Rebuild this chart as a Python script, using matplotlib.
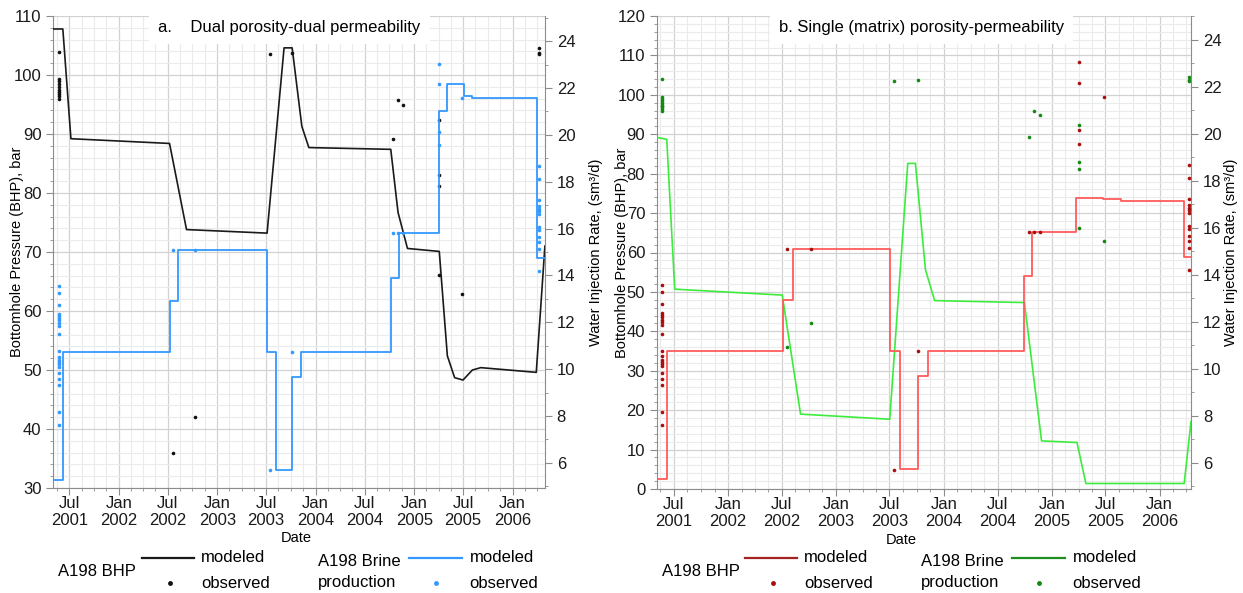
import numpy as np
import pandas as pd
import matplotlib
matplotlib.use('Agg')
import matplotlib.pyplot as plt
import matplotlib.dates as mdates
from matplotlib.ticker import MultipleLocator, FixedLocator
from matplotlib.lines import Line2D

plt.rcParams['font.family'] = ['Liberation Sans', 'DejaVu Sans']

# ---------------- datos ----------------
# Panel a: BHP modelado (bar)
bhp_a_fechas = ['2001-05-03', '2001-06-07', '2001-07-07', '2002-07-08', '2002-09-09',
                '2003-07-05', '2003-09-06', '2003-10-06', '2003-11-11', '2003-12-07',
                '2004-10-06', '2004-11-02', '2004-12-07', '2005-04-04', '2005-05-04',
                '2005-05-31', '2005-07-01', '2005-08-05', '2005-09-05', '2006-03-30',
                '2006-05-01']
bhp_a_valores = [107.8, 107.8, 89.2, 88.4, 73.8,
                 73.2, 104.6, 104.6, 91.3, 87.7,
                 87.4, 76.7, 70.6, 70.1, 52.4,
                 48.7, 48.3, 50.0, 50.4, 49.6,
                 71.0]

# Panel a: caudal modelado (sm3/d), escalones
tasa_a_fechas = ['2001-05-03', '2001-06-08', '2002-07-08', '2002-08-09', '2003-07-05',
                 '2003-08-07', '2003-10-05', '2003-11-08', '2004-10-07', '2004-11-06',
                 '2005-04-04', '2005-05-03', '2005-07-04', '2005-08-04', '2006-03-31',
                 '2006-05-01']
tasa_a_valores = [5.26, 10.75, 12.9, 15.1, 10.75,
                  5.7, 9.65, 10.75, 13.9, 15.8,
                  21.0, 22.15, 21.66, 21.56, 14.74,
                  14.74]

# Panel b: BHP modelado (bar)
bhp_b_fechas = ['2001-05-05', '2001-06-07', '2001-07-04', '2002-07-03', '2002-09-03',
                '2003-07-02', '2003-09-01', '2003-09-27', '2003-10-31', '2003-12-01',
                '2004-09-30', '2004-11-27', '2005-03-27', '2005-04-26', '2006-03-25',
                '2006-04-17']
bhp_b_valores = [89.2, 88.7, 50.7, 49.2, 19.0,
                 17.7, 82.6, 82.6, 55.6, 47.8,
                 47.3, 12.2, 11.8, 1.4, 1.4,
                 17.1]

# Panel b: caudal modelado (sm3/d), escalones
tasa_b_fechas = ['2001-05-05', '2001-06-08', '2002-07-06', '2002-08-07', '2003-07-03',
                 '2003-08-05', '2003-10-04', '2003-11-07', '2004-09-30', '2004-10-27',
                 '2005-03-25', '2005-06-22', '2005-08-23', '2006-03-23', '2006-04-17']
tasa_b_valores = [5.3, 10.77, 12.9, 15.07, 10.77,
                  5.73, 9.67, 10.77, 13.93, 15.8,
                  17.26, 17.2, 17.12, 14.76, 14.76]

# Observados (iguales en ambos paneles)
obs_bhp_fechas = (['2001-05-22'] * 10 + ['2002-07-19', '2002-10-10', '2003-07-15', '2003-10-07',
                   '2004-10-15', '2004-11-02', '2004-11-22'] + ['2005-04-04'] * 4 +
                  ['2005-06-28'] + ['2006-04-10'] * 3)
obs_bhp_valores = [103.9, 99.4, 99.0, 98.4, 97.9, 97.5, 97.2, 96.8, 96.4, 96.0,
                   36.0, 42.0, 103.6, 103.7,
                   89.2, 95.8, 95.0,
                   92.4, 83.0, 81.2, 66.1,
                   62.9,
                   104.5, 103.8, 103.5]

obs_tasa_fechas = (['2001-05-22'] * 21 + ['2002-07-19', '2002-10-10', '2003-07-15', '2003-10-07',
                    '2004-10-15', '2004-11-02', '2004-11-22'] + ['2005-04-04'] * 4 +
                   ['2005-06-28'] + ['2006-04-10'] * 13)
obs_tasa_valores = [13.57, 13.25, 12.75, 12.37, 12.27, 12.18, 12.09, 11.97, 11.84, 11.48,
                    10.77, 10.52, 10.38, 10.29, 10.21, 10.10, 9.82, 9.56, 9.32, 8.16, 7.62,
                    15.1, 15.1, 5.69, 10.75,
                    15.8, 15.8, 15.8,
                    23.03, 22.16, 20.13, 19.56,
                    21.56,
                    18.65, 18.11, 17.23, 16.95, 16.84, 16.74, 16.63, 16.06, 15.95, 15.66,
                    15.42, 15.14, 14.2]

W, H = 1243, 593
GRIS = '#8c8c8c'


def fechas(lista):
    return pd.to_datetime(lista)


def rejilla_fechas():
    # lineas menores cada 1.5 meses entre enero/julio
    mitades = pd.date_range('2001-01-01', '2007-01-01', freq='6MS')
    pos = []
    for a, b in zip(mitades[:-1], mitades[1:]):
        na, nb = mdates.date2num(a), mdates.date2num(b)
        pos += list(np.linspace(na, nb, 5)[1:4])
    return pos


def dibujar_panel(ax, titulo, tx, xlim, ylim_izq, ylim_der,
                  bhp_f, bhp_v, tasa_f, tasa_v,
                  col_bhp, col_tasa, col_dot_bhp, col_dot_tasa,
                  ylab_x, ylab2_x, xlab_x):
    ax2 = ax.twinx()

    ax.plot(fechas(bhp_f), bhp_v, color=col_bhp, lw=1.2, zorder=3)
    ax.plot(fechas(obs_bhp_fechas), obs_bhp_valores, 'o', color=col_dot_bhp, ms=2.6,
            mew=0, zorder=4)
    ax2.plot(fechas(tasa_f), tasa_v, color=col_tasa, lw=1.3, drawstyle='steps-post', zorder=3)
    ax2.plot(fechas(obs_tasa_fechas), obs_tasa_valores, 'o', color=col_dot_tasa, ms=2.6,
             mew=0, zorder=4)

    ax.set_xlim(pd.Timestamp(xlim[0]), pd.Timestamp(xlim[1]))
    ax.set_ylim(*ylim_izq)
    ax2.set_ylim(*ylim_der)

    ax.xaxis.set_major_locator(mdates.MonthLocator(bymonth=[1, 7]))
    ax.xaxis.set_major_formatter(mdates.DateFormatter('%b\n%Y'))
    ax.xaxis.set_minor_locator(FixedLocator(rejilla_fechas()))
    ax.yaxis.set_major_locator(MultipleLocator(10))
    ax.yaxis.set_minor_locator(MultipleLocator(2))
    ax2.yaxis.set_major_locator(MultipleLocator(2))
    ax2.yaxis.set_minor_locator(MultipleLocator(1))

    ax.grid(True, which='major', color='#d2d2d2', lw=0.9, zorder=0)
    ax.grid(True, which='minor', color='#ebebeb', lw=0.8, zorder=0)
    ax.set_axisbelow(True)

    for a in (ax, ax2):
        for s in a.spines.values():
            s.set_color(GRIS)
        a.spines['top'].set_visible(False)
        a.tick_params(which='both', colors=GRIS, labelcolor='#1a1a1a', labelsize=12)
        a.tick_params(which='major', length=5)
        a.tick_params(which='minor', length=2.5)
    ax.spines['right'].set_visible(False)
    ax2.spines['left'].set_visible(False)
    ax2.spines['bottom'].set_visible(False)
    ax.tick_params(axis='x', pad=1)
    for lab in ax.get_xticklabels():
        lab.set_linespacing(1.1)

    ax.set_ylabel('Bottomhole Pressure (BHP), bar', fontsize=10.5)
    ax2.set_ylabel('Water Injection Rate, (sm³/d)', fontsize=10.5)
    ax.set_xlabel('Date', fontsize=10.5)
    ax.yaxis.set_label_coords(ylab_x, 0.5)
    ax2.yaxis.set_label_coords(ylab2_x, 0.5)
    ax.xaxis.set_label_coords(xlab_x, -0.092)

    ax2.text(tx, 0.975, titulo, transform=ax2.transAxes, fontsize=12, ha='left', va='center',
             bbox=dict(facecolor='white', edgecolor='none', boxstyle='square,pad=0.55'),
             zorder=10)


def dibujar_leyenda(fig, x0, col_bhp, col_dot_bhp, col_brine, col_dot_brine):
    def fx(x):
        return (x0 + x) / W

    def fy(y):
        return 1 - y / H

    fig.text(fx(0), fy(572), 'A198 BHP', fontsize=12, va='center')
    fig.add_artist(Line2D([fx(83), fx(135)], [fy(558), fy(558)], color=col_bhp, lw=1.6))
    fig.add_artist(Line2D([fx(111.5)], [fy(583)], marker='o', ms=3.5, mew=0, color=col_dot_bhp))
    fig.text(fx(142.5), fy(557), 'modeled', fontsize=12, va='center')
    fig.text(fx(142.5), fy(583), 'observed', fontsize=12, va='center')

    fig.text(fx(259.8), fy(561), 'A198 Brine', fontsize=12, va='center')
    fig.text(fx(259.8), fy(583), 'production', fontsize=12, va='center')
    fig.add_artist(Line2D([fx(350.5), fx(403.5)], [fy(558), fy(558)], color=col_brine, lw=1.6))
    fig.add_artist(Line2D([fx(377.5)], [fy(583)], marker='o', ms=3.5, mew=0, color=col_dot_brine))
    fig.text(fx(411.2), fy(557), 'modeled', fontsize=12, va='center')
    fig.text(fx(411.2), fy(583), 'observed', fontsize=12, va='center')


fig = plt.figure(figsize=(W / 100, H / 100), dpi=100)
ax_a = fig.add_axes([53.4 / W, 1 - 488 / H, 491.5 / W, 472 / H])
ax_b = fig.add_axes([657 / W, 1 - 489 / H, 534 / W, 473 / H])

dibujar_panel(ax_a, 'a.    Dual porosity-dual permeability', 0.213,
              ('2001-05-03', '2006-05-01'), (30, 110), (4.93, 25.07),
              bhp_a_fechas, bhp_a_valores, tasa_a_fechas, tasa_a_valores,
              '#1a1a1a', '#3399ff', '#111111', '#3399ff',
              -0.060, 1.090, 0.495)

dibujar_panel(ax_b, 'b. Single (matrix) porosity-permeability', 0.228,
              ('2001-05-05', '2006-04-17'), (0, 120), (4.88, 25.0),
              bhp_b_fechas, bhp_b_valores, tasa_b_fechas, tasa_b_valores,
              '#3cec3c', '#ff5c5c', '#128a12', '#a80e0e',
              -0.053, 1.062, 0.457)

dibujar_leyenda(fig, 58.5, '#1a1a1a', '#111111', '#3399ff', '#3399ff')
dibujar_leyenda(fig, 661.5, '#a52222', '#a80e0e', '#1e8f1e', '#128a12')

fig.savefig('out.png', dpi=100)
